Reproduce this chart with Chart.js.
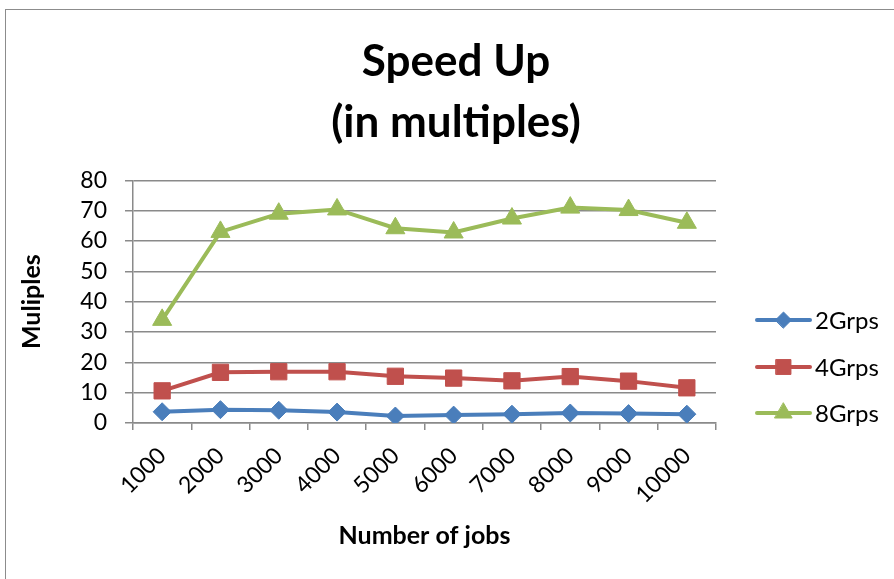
<!DOCTYPE html>
<html>
<head>
<meta charset="utf-8">
<script src="https://cdn.jsdelivr.net/npm/chart.js@4.4.1/dist/chart.umd.min.js"></script>
<style>
  html, body { margin: 0; padding: 0; background: #fff; overflow: hidden; }
  #frame {
    position: absolute; left: 5px; top: 9px;
    width: 900px; height: 569px;
    border-left: 1px solid #8c8c8c; border-top: 1px solid #8c8c8c;
    border-right: 1px solid #8c8c8c;
  }
  #chart { display: block; }
</style>
</head>
<body>
<div id="frame"><canvas id="chart" width="900" height="570"></canvas></div>
<script>
// data
const jobs = ['1000', '2000', '3000', '4000', '5000', '6000', '7000', '8000', '9000', '10000'];
const grp2 = [3.7, 4.4, 4.2, 3.6, 2.3, 2.6, 2.9, 3.3, 3.1, 2.9];
const grp4 = [10.6, 16.7, 16.9, 16.9, 15.4, 14.8, 13.9, 15.3, 13.8, 11.6];
const grp8 = [34, 63, 69, 70.4, 64.2, 62.8, 67.4, 71, 70.2, 66];
const yTicks = [0, 10, 20, 30, 40, 50, 60, 70, 80];

const FONT = 'Lato, "Open Sans", sans-serif';
const GRID = '#8a8a8a';

const blue = '#4a7ebb', red = '#c0504d', green = '#9bbb59';

// legend drawn as line + marker like the original
const lineLegend = {
    id: 'lineLegend',
    afterDraw(chart) {
        const ctx = chart.ctx;
        const x0 = 751, x1 = 804, tx = 809;
        const rows = [310, 357, 403];
        ctx.save();
        chart.data.datasets.forEach((ds, i) => {
            const y = rows[i];
            ctx.strokeStyle = ds.borderColor;
            ctx.lineWidth = 4;
            ctx.lineCap = 'round';
            ctx.beginPath();
            ctx.moveTo(x0, y);
            ctx.lineTo(x1, y);
            ctx.stroke();
            ctx.fillStyle = ds.pointBackgroundColor;
            ctx.strokeStyle = ds.pointBorderColor;
            ctx.lineWidth = 1;
            Chart.helpers.drawPoint(ctx, {
                pointStyle: ds.pointStyle, radius: ds.pointRadius - 1, rotation: 0, borderWidth: 1
            }, (x0 + x1) / 2, y);
            ctx.fillStyle = '#000';
            ctx.font = '24px ' + FONT;
            ctx.textBaseline = 'middle';
            ctx.textAlign = 'left';
            ctx.fillText(ds.label, tx, y + 1);
        });
        ctx.restore();
    }
};

function series(label, data, color, style, r) {
    return {
        label: label,
        data: data,
        borderColor: color,
        backgroundColor: color,
        pointBackgroundColor: color,
        pointBorderColor: color,
        pointBorderWidth: 1,
        borderWidth: 4,
        pointStyle: style,
        pointRadius: r,
        pointHoverRadius: r,
        tension: 0,
        yAxisID: 'y'
    };
}

new Chart(document.getElementById('chart').getContext('2d'), {
    type: 'line',
    data: {
        labels: jobs,
        datasets: [
            series('2Grps', grp2, blue, 'rectRot', 9),
            series('4Grps', grp4, red, 'rect', 11.5),
            series('8Grps', grp8, green, 'triangle', 11)
        ]
    },
    options: {
        responsive: false,
        animation: false,
        layout: { padding: 0 },
        plugins: {
            legend: { display: false },
            tooltip: { enabled: false },
            title: {
                display: true,
                text: ['Speed Up', '(in multiples)'],
                color: '#000',
                font: { family: FONT, size: 44, weight: 'bold', lineHeight: 1.39 },
                padding: { top: 21, bottom: 27 }
            }
        },
        scales: {
            x: {
                offset: true,
                grid: {
                    offset: true, drawOnChartArea: false, drawTicks: true,
                    tickLength: 7, color: GRID, lineWidth: 1.5
                },
                border: { color: GRID, width: 1.5 },
                ticks: {
                    color: '#000', font: { family: FONT, size: 23 },
                    minRotation: 45, maxRotation: 45, padding: 12, autoSkip: false
                },
                title: {
                    display: true, text: 'Number of jobs', color: '#000',
                    font: { family: FONT, size: 25, weight: 'bold' },
                    padding: { top: 0, bottom: 29 }
                },
                afterFit(s) { s.height = 157; }
            },
            y: {
                min: 0, max: 80,
                afterBuildTicks(s) { s.ticks = yTicks.map(v => ({ value: v })); },
                grid: { color: GRID, lineWidth: 1.5, tickLength: 8 },
                border: { color: GRID, width: 1.5 },
                ticks: {
                    color: '#000', font: { family: FONT, size: 23 }, padding: 18,
                    autoSkip: false
                },
                title: {
                    display: true, text: 'Muliples', color: '#000',
                    font: { family: FONT, size: 25, weight: 'bold' },
                    padding: { top: 11, bottom: 0 }
                },
                afterFit(s) { s.width = 127; }
            },
            spacer: {
                axis: 'y', position: 'right', display: true,
                grid: { display: false }, border: { display: false },
                ticks: { display: false },
                afterFit(s) { s.width = 190; }
            }
        }
    },
    plugins: [lineLegend]
});
</script>
</body>
</html>
